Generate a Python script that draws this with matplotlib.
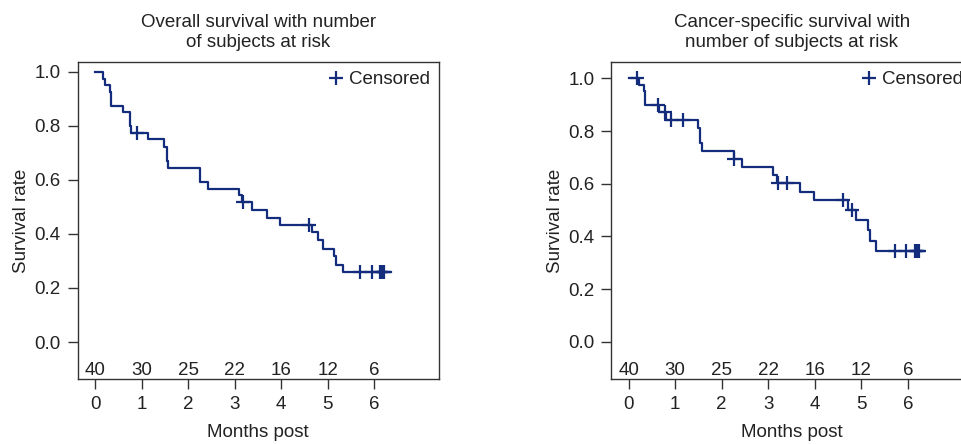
import numpy as np
import matplotlib
matplotlib.use("Agg")
import matplotlib.pyplot as plt
from matplotlib.lines import Line2D

plt.rcParams['font.family'] = ['Liberation Sans', 'DejaVu Sans']

### data (months, survival after each step)
os_time = [0, 0.164, 0.221, 0.321, 0.343, 0.607, 0.75, 0.771, 1.143, 1.486, 1.536,
           1.571, 2.25, 2.429, 3.093, 3.164, 3.379, 3.693, 3.979, 4.657, 4.786,
           4.893, 5.143, 5.179, 5.321, 6.357]
os_surv = [1.0, 0.975, 0.95, 0.925, 0.875, 0.85, 0.8, 0.775, 0.75, 0.723, 0.67,
           0.645, 0.592, 0.565, 0.543, 0.518, 0.487, 0.46, 0.433, 0.407, 0.376,
           0.346, 0.318, 0.287, 0.26, 0.26]
os_cens = [0.907, 3.179, 4.593, 5.7, 5.943, 6.121, 6.15, 6.179, 6.214]

css_time = [0, 0.22, 0.34, 0.35, 0.657, 0.8, 1.486, 1.536, 1.579, 2.264, 2.443,
            3.107, 3.193, 3.693, 3.986, 4.714, 4.893, 5.143, 5.179, 5.321, 6.357]
css_surv = [1.0, 0.975, 0.95, 0.897, 0.872, 0.84, 0.812, 0.753, 0.724, 0.695,
            0.664, 0.634, 0.601, 0.568, 0.537, 0.502, 0.462, 0.424, 0.383, 0.345,
            0.345]
css_cens = [0.19, 0.63, 0.78, 0.914, 1.164, 2.27, 3.2, 3.407, 4.607, 4.807,
            5.714, 5.95, 6.143, 6.171, 6.2, 6.236]

risk_months = [0, 1, 2, 3, 4, 5, 6]
os_risk = [40, 30, 25, 22, 16, 12, 6]
css_risk = [40, 30, 25, 22, 16, 12, 6]

titles = ["Overall survival with number\nof subjects at risk",
          "Cancer-specific survival with\nnumber of subjects at risk"]

line_col = '#132c7c'
txt_col = '#222222'
fs = 13.5

fig = plt.figure(figsize=(9.62, 4.44), dpi=100)
ax1 = fig.add_axes([0.0806, 0.1464, 0.3758, 0.714])
ax2 = fig.add_axes([0.6352, 0.1464, 0.3758, 0.714])

panels = [(ax1, os_time, os_surv, os_cens, os_risk, (-0.137, 1.037)),
          (ax2, css_time, css_surv, css_cens, css_risk, (-0.141, 1.062))]

for i, (ax, t, s, cens, risk, ylim) in enumerate(panels):
    t = np.array(t)
    s = np.array(s)
    ax.step(t, s, where='post', color=line_col, lw=1.6)
    # censor marks sit on the curve
    idx = np.searchsorted(t, cens, side='right') - 1
    ax.plot(cens, s[idx], ls='none', marker='+', ms=10, mew=1.6, color=line_col)

    for m, n in zip(risk_months, risk):
        ax.text(m, -0.107, str(n), ha='center', va='center', fontsize=fs, color=txt_col)

    ax.set_xlim(-0.376, 7.39)
    ax.set_ylim(*ylim)
    ax.set_xticks(risk_months)
    ax.set_yticks([0.0, 0.2, 0.4, 0.6, 0.8, 1.0])
    ax.set_yticklabels(['0.0', '0.2', '0.4', '0.6', '0.8', '1.0'])
    ax.tick_params(direction='out', length=7, width=1, color='#333333',
                   labelsize=fs, labelcolor=txt_col, pad=5)
    for sp in ax.spines.values():
        sp.set_color('#333333')
        sp.set_linewidth(1)

    ax.set_xlabel('Months post', fontsize=fs, color=txt_col, labelpad=8)
    ax.set_ylabel('Survival rate', fontsize=fs, color=txt_col, labelpad=3)
    ax.set_title(titles[i], fontsize=fs, color=txt_col, pad=11, linespacing=1.2)

    h = Line2D([], [], ls='none', marker='+', ms=10, mew=1.6, color=line_col)
    ax.legend([h], ['Censored'], loc='upper right', frameon=False, fontsize=fs,
              handlelength=0.8, handletextpad=0.3, borderaxespad=0.1,
              labelcolor=txt_col)

fig.savefig('out.png', dpi=100)
